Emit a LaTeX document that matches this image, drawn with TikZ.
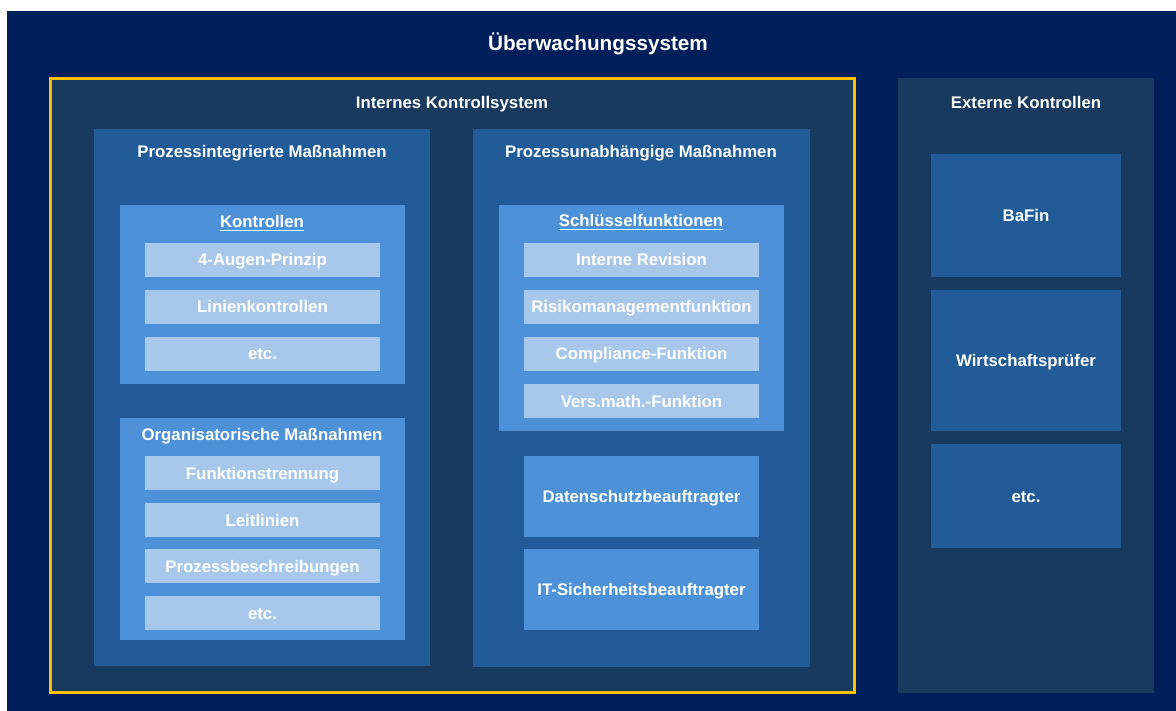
\documentclass[tikz,border=0pt]{standalone}
\usepackage{fontspec}
\setmainfont{Liberation Sans}
\usepackage{tikz}

\definecolor{navy}{HTML}{001F5B}
\definecolor{ksblue}{HTML}{183A5F}
\definecolor{colblue}{HTML}{215B98}
\definecolor{boxblue}{HTML}{4D92D8}
\definecolor{itemblue}{HTML}{A7C8EB}
\definecolor{frameyellow}{HTML}{FFC000}

\newcommand{\ulined}[1]{\setbox0\hbox{#1}\leavevmode\rlap{\rule[-3.5pt]{\wd0}{1.8pt}}\box0}

\begin{document}
\begin{tikzpicture}[x=1pt,y=-1pt,
    area/.style={anchor=north west,inner sep=0pt,outer sep=0pt},
    lbl/.style={text=white,text height=12pt,text depth=0pt,font=\bfseries\fontsize{16.8}{18}\selectfont},
    item/.style={area,lbl,fill=itemblue,minimum width=235pt,minimum height=34pt},
    ext/.style={area,lbl,fill=colblue,minimum width=190pt}]
      \useasboundingbox (0,0) rectangle (1176,711) ;
      \fill[white] (0,0) rectangle (1176,711) ;
      \node[area,fill=navy,minimum width=1169pt,minimum height=700pt] (sys) at (7,11) {} ;
      \node[lbl,text height=15pt,font=\bfseries\fontsize{20.7}{22}\selectfont] (syst) at (598,43) {Überwachungssystem} ;
      % internes Kontrollsystem
      \node[area,fill=ksblue,minimum width=804pt,minimum height=614pt] (iks) at (50.5,78.5) {} ;
      \draw[frameyellow,line width=3pt] (iks.north west) rectangle (iks.south east) ;
      \node[lbl] (ikst) at (452,103) {Internes Kontrollsystem} ;
      % prozessintegriert
      \node[area,fill=colblue,minimum width=336pt,minimum height=537pt] (pi) at (94,129) {} ;
      \node[lbl] (pit) at (262,152) {Prozessintegrierte Maßnahmen} ;
      \node[area,fill=boxblue,minimum width=285pt,minimum height=179pt] (ktr) at (120,205) {} ;
      \node[lbl] (ktrt) at (262,222) {\ulined{Kontrollen}} ;
      \node[item] (k1) at (145,243) {4-Augen-Prinzip} ;
      \node[item] (k2) at (145,290) {Linienkontrollen} ;
      \node[item] (k3) at (145,337) {etc.} ;
      \node[area,fill=boxblue,minimum width=285pt,minimum height=222pt] (org) at (120,418) {} ;
      \node[lbl] (orgt) at (262,434) {Organisatorische Maßnahmen} ;
      \node[item] (o1) at (145,456) {Funktionstrennung} ;
      \node[item] (o2) at (145,503) {Leitlinien} ;
      \node[item] (o3) at (145,549) {Prozessbeschreibungen} ;
      \node[item] (o4) at (145,596) {etc.} ;
      % prozessunabhaengig
      \node[area,fill=colblue,minimum width=337pt,minimum height=538pt] (pu) at (473,129) {} ;
      \node[lbl] (put) at (641,152) {Prozessunabhängige Maßnahmen} ;
      \node[area,fill=boxblue,minimum width=285pt,minimum height=226pt] (sf) at (499,205) {} ;
      \node[lbl] (sft) at (641,221) {\ulined{Schlüsselfunktionen}} ;
      \node[item] (s1) at (524,243) {Interne Revision} ;
      \node[item] (s2) at (524,290) {Risikomanagementfunktion} ;
      \node[item] (s3) at (524,337) {Compliance-Funktion} ;
      \node[item] (s4) at (524,384) {Vers.math.-Funktion} ;
      \node[item,fill=boxblue,minimum height=81pt] (ds) at (524,456) {Datenschutzbeauftragter} ;
      \node[item,fill=boxblue,minimum height=81pt] (its) at (524,549) {IT-Sicherheitsbeauftragter} ;
      % externe Kontrollen
      \node[area,fill=ksblue,minimum width=256pt,minimum height=615pt] (ek) at (898,78) {} ;
      \node[lbl] (ekt) at (1026,103) {Externe Kontrollen} ;
      \node[ext,minimum height=123pt] (e1) at (931,154) {BaFin} ;
      \node[ext,minimum height=141pt] (e2) at (931,290) {Wirtschaftsprüfer} ;
      \node[ext,minimum height=104pt] (e3) at (931,444) {etc.} ;
    \end{tikzpicture}
\end{document}
